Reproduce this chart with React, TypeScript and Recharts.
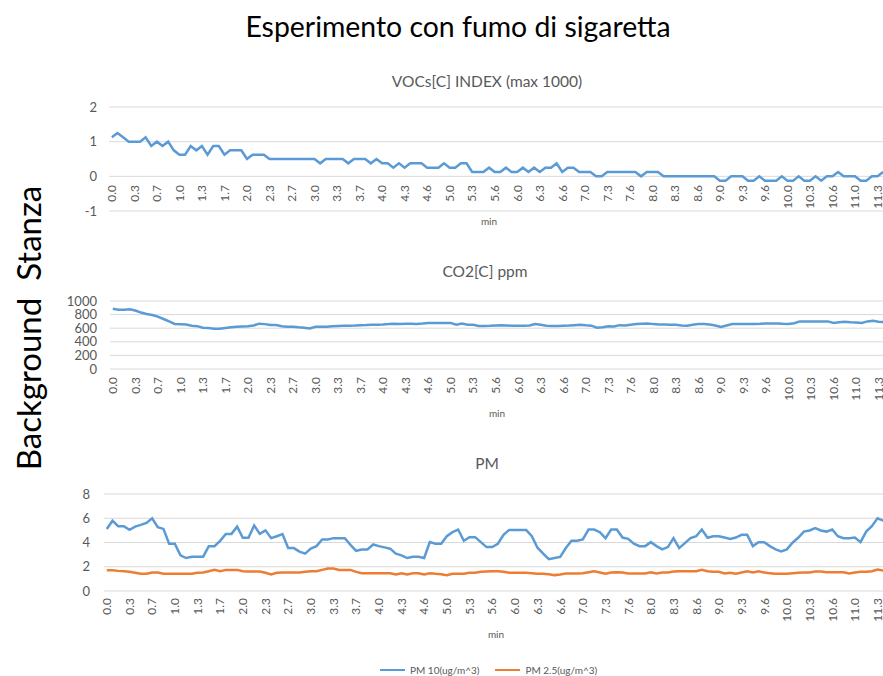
import { LineChart, Line, XAxis, YAxis, CartesianGrid, Legend } from 'recharts';

// time (min), one sample about every 5 s
const times = [
  '0.0', '0.1', '0.2', '0.2', '0.3', '0.4', '0.5', '0.6', '0.7', '0.7',
  '0.8', '0.9', '1.0', '1.1', '1.2', '1.2', '1.3', '1.4', '1.5', '1.6',
  '1.7', '1.7', '1.8', '1.9', '2.0', '2.1', '2.2', '2.2', '2.3', '2.4',
  '2.5', '2.6', '2.7', '2.7', '2.8', '2.9', '3.0', '3.1', '3.2', '3.2',
  '3.3', '3.4', '3.5', '3.6', '3.7', '3.7', '3.8', '3.9', '4.0', '4.1',
  '4.2', '4.2', '4.3', '4.4', '4.5', '4.6', '4.6', '4.7', '4.8', '4.9',
  '5.0', '5.1', '5.1', '5.2', '5.3', '5.4', '5.5', '5.6', '5.6', '5.7',
  '5.8', '5.9', '6.0', '6.1', '6.1', '6.2', '6.3', '6.4', '6.5', '6.6',
  '6.6', '6.7', '6.8', '6.9', '7.0', '7.1', '7.1', '7.2', '7.3', '7.4',
  '7.5', '7.6', '7.6', '7.7', '7.8', '7.9', '8.0', '8.1', '8.1', '8.2',
  '8.3', '8.4', '8.5', '8.5', '8.6', '8.7', '8.8', '8.9', '9.0', '9.0',
  '9.1', '9.2', '9.3', '9.4', '9.5', '9.5', '9.6', '9.7', '9.8', '9.9',
  '10.0', '10.0', '10.1', '10.2', '10.3', '10.4', '10.5', '10.5', '10.6', '10.7',
  '10.8', '10.9', '11.0', '11.0', '11.1', '11.2', '11.3', '11.4',
];

const voc = [
  1.125, 1.25, 1.125, 1, 1, 1, 1.125, 0.875, 1, 0.875,
  1, 0.75, 0.625, 0.625, 0.875, 0.75, 0.875, 0.625, 0.875, 0.875,
  0.625, 0.75, 0.75, 0.75, 0.5, 0.625, 0.625, 0.625, 0.5, 0.5,
  0.5, 0.5, 0.5, 0.5, 0.5, 0.5, 0.5, 0.375, 0.5, 0.5,
  0.5, 0.5, 0.375, 0.5, 0.5, 0.5, 0.375, 0.5, 0.375, 0.375,
  0.25, 0.375, 0.25, 0.375, 0.375, 0.375, 0.25, 0.25, 0.25, 0.375,
  0.25, 0.25, 0.375, 0.375, 0.125, 0.125, 0.125, 0.25, 0.125, 0.125,
  0.25, 0.125, 0.125, 0.25, 0.125, 0.25, 0.125, 0.25, 0.25, 0.375,
  0.125, 0.25, 0.25, 0.125, 0.125, 0.125, 0, 0, 0.125, 0.125,
  0.125, 0.125, 0.125, 0.125, 0, 0.125, 0.125, 0.125, 0, 0,
  0, 0, 0, 0, 0, 0, 0, 0, -0.125, -0.125,
  0, 0, 0, -0.125, -0.125, 0, -0.125, -0.125, -0.125, 0,
  -0.125, -0.125, 0, -0.125, -0.125, 0, -0.125, 0, 0, 0.125,
  0, 0, 0, -0.125, -0.125, 0, 0, 0.125,
];

const co2 = [
  887, 873, 873, 880, 860, 830, 810, 795, 770, 735,
  700, 662, 659, 655, 637, 630, 608, 603, 593, 593,
  603, 613, 620, 625, 630, 640, 667, 660, 647, 647,
  630, 623, 623, 613, 608, 596, 620, 623, 623, 627,
  632, 635, 637, 640, 645, 647, 652, 652, 655, 660,
  667, 662, 667, 667, 663, 668, 676, 676, 676, 676,
  678, 650, 667, 650, 650, 632, 632, 635, 640, 645,
  640, 635, 635, 637, 640, 660, 650, 635, 632, 632,
  637, 640, 645, 650, 642, 637, 608, 613, 627, 625,
  645, 640, 652, 662, 667, 670, 660, 655, 655, 650,
  650, 640, 637, 650, 662, 662, 655, 640, 618, 640,
  662, 662, 662, 662, 662, 665, 670, 670, 670, 665,
  662, 672, 700, 700, 700, 700, 700, 700, 678, 688,
  693, 686, 683, 678, 700, 710, 695, 690,
];

const pm10 = [
  5.12, 5.8, 5.34, 5.34, 5.04, 5.31, 5.45, 5.61, 6.0, 5.26,
  5.12, 3.9, 3.9, 2.94, 2.72, 2.83, 2.83, 2.83, 3.7, 3.7,
  4.14, 4.71, 4.71, 5.31, 4.39, 4.39, 5.4, 4.71, 5.0, 4.36,
  4.52, 4.69, 3.54, 3.54, 3.25, 3.08, 3.49, 3.7, 4.25, 4.25,
  4.36, 4.36, 4.36, 3.81, 3.32, 3.43, 3.43, 3.84, 3.7, 3.6,
  3.49, 3.08, 2.94, 2.72, 2.83, 2.83, 2.72, 4.03, 3.9, 3.9,
  4.52, 4.85, 5.07, 4.14, 4.44, 4.44, 4.03, 3.62, 3.62, 3.9,
  4.63, 5.04, 5.04, 5.04, 5.04, 4.52, 3.57, 3.08, 2.62, 2.72,
  2.81, 3.54, 4.14, 4.14, 4.25, 5.07, 5.07, 4.85, 4.36, 5.07,
  5.07, 4.41, 4.3, 3.9, 3.7, 3.7, 4.03, 3.7, 3.43, 3.62,
  4.36, 3.54, 3.95, 4.36, 4.52, 5.07, 4.39, 4.52, 4.52, 4.41,
  4.3, 4.41, 4.63, 4.63, 3.7, 4.03, 4.03, 3.7, 3.43, 3.27,
  3.43, 3.98, 4.39, 4.9, 4.99, 5.18, 4.99, 4.9, 5.07, 4.52,
  4.36, 4.36, 4.41, 4.03, 4.9, 5.34, 6.0, 5.8,
];

const pm25 = [
  1.72, 1.72, 1.66, 1.63, 1.58, 1.5, 1.42, 1.42, 1.53, 1.53,
  1.42, 1.42, 1.42, 1.42, 1.42, 1.42, 1.5, 1.53, 1.63, 1.74,
  1.63, 1.74, 1.74, 1.74, 1.63, 1.61, 1.61, 1.61, 1.5, 1.36,
  1.5, 1.53, 1.53, 1.53, 1.53, 1.58, 1.63, 1.63, 1.74, 1.85,
  1.85, 1.74, 1.74, 1.74, 1.58, 1.47, 1.47, 1.47, 1.47, 1.47,
  1.47, 1.36, 1.47, 1.36, 1.47, 1.47, 1.36, 1.47, 1.42, 1.39,
  1.31, 1.42, 1.42, 1.42, 1.5, 1.5, 1.58, 1.61, 1.62, 1.63,
  1.58, 1.5, 1.5, 1.5, 1.5, 1.47, 1.42, 1.42, 1.39, 1.31,
  1.36, 1.44, 1.44, 1.44, 1.47, 1.55, 1.63, 1.53, 1.42, 1.53,
  1.55, 1.53, 1.44, 1.44, 1.44, 1.44, 1.55, 1.44, 1.53, 1.53,
  1.61, 1.63, 1.63, 1.63, 1.63, 1.74, 1.63, 1.58, 1.58, 1.44,
  1.5, 1.42, 1.53, 1.63, 1.53, 1.63, 1.53, 1.47, 1.42, 1.42,
  1.42, 1.47, 1.5, 1.53, 1.53, 1.61, 1.61, 1.55, 1.55, 1.55,
  1.55, 1.44, 1.53, 1.58, 1.58, 1.63, 1.77, 1.69,
];

const vocTicks = [-1, 0, 1, 2];
const co2Ticks = [0, 200, 400, 600, 800, 1000];
const pmTicks = [0, 2, 4, 6, 8];

const data = times.map((t, i) => ({
  t,
  voc: voc[i],
  co2: co2[i],
  pm10: pm10[i],
  pm25: pm25[i],
}));

const BLUE = '#5B9BD5';
const ORANGE = '#ED7D31';
const GREY = '#595959';
const GRID = '#D9D9D9';

function RotTick(props: any) {
  const { x, y, payload, lift = 0 } = props;
  return (
    <g transform={`translate(${x},${y - lift})`}>
      <text transform="rotate(-90)" textAnchor="end" dy="0.36em" fontSize={12} fill={GREY}>
        {payload.value}
      </text>
    </g>
  );
}

function PmLegend({ payload }: any) {
  return (
    <div style={{ display: 'flex', alignItems: 'center', gap: 16, fontSize: 10, color: GREY }}>
      {(payload || []).map((e: any) => (
        <span key={e.value} style={{ display: 'flex', alignItems: 'center' }}>
          <span style={{ width: 25, height: 2.5, background: e.color, marginRight: 5 }} />
          {e.value}
        </span>
      ))}
    </div>
  );
}

const yTick = { fontSize: 13, fill: GREY };

export default function App() {
  return (
    <div
      style={{
        position: 'fixed',
        left: 0,
        top: 0,
        width: 883,
        height: 676,
        overflow: 'hidden',
        background: '#fff',
        fontFamily: 'Lato, sans-serif',
      }}
    >
      <div style={{ position: 'absolute', left: 0, top: 95 }}>
        <LineChart width={886} height={126} data={data} margin={{ top: 12, right: 0, bottom: 0, left: 0 }}>
          <CartesianGrid vertical={false} stroke={GRID} />
          <XAxis
            dataKey="t"
            interval={3}
            height={10}
            tickSize={0}
            tickMargin={0}
            axisLine={false}
            tickLine={false}
            padding={{ left: 2.85, right: 2.85 }}
            tick={(p: any) => <RotTick {...p} lift={26} />}
          />
          <YAxis
            width={109}
            domain={[-1, 2]}
            ticks={vocTicks}
            interval={0}
            axisLine={false}
            tickLine={false}
            tickSize={0}
            tickMargin={12}
            tick={yTick}
          />
          <Line type="linear" dataKey="voc" stroke={BLUE} strokeWidth={2.5} dot={false} isAnimationActive={false} />
        </LineChart>
      </div>

      <div style={{ position: 'absolute', left: 0, top: 290 }}>
        <LineChart width={887} height={119} data={data} margin={{ top: 11, right: 0, bottom: 0, left: 0 }}>
          <CartesianGrid vertical={false} stroke={GRID} />
          <XAxis
            dataKey="t"
            interval={3}
            height={40}
            tickSize={0}
            tickMargin={8}
            axisLine={false}
            tickLine={false}
            padding={{ left: 2.8, right: 2.8 }}
            tick={(p: any) => <RotTick {...p} />}
          />
          <YAxis
            width={110}
            domain={[0, 1000]}
            ticks={co2Ticks}
            interval={0}
            axisLine={false}
            tickLine={false}
            tickSize={0}
            tickMargin={13}
            tick={yTick}
          />
          <Line type="linear" dataKey="co2" stroke={BLUE} strokeWidth={2.5} dot={false} isAnimationActive={false} />
        </LineChart>
      </div>

      <div style={{ position: 'absolute', left: 0, top: 484 }}>
        <LineChart width={886} height={147} data={data} margin={{ top: 10, right: 0, bottom: 0, left: 0 }}>
          <CartesianGrid vertical={false} stroke={GRID} />
          <XAxis
            dataKey="t"
            interval={3}
            height={40}
            tickSize={0}
            tickMargin={7}
            axisLine={false}
            tickLine={false}
            padding={{ left: 2.8, right: 2.8 }}
            tick={(p: any) => <RotTick {...p} />}
          />
          <YAxis
            width={104}
            domain={[0, 8]}
            ticks={pmTicks}
            interval={0}
            axisLine={false}
            tickLine={false}
            tickSize={0}
            tickMargin={14}
            tick={yTick}
          />
          <Legend
            layout="horizontal"
            verticalAlign="middle"
            content={<PmLegend />}
            wrapperStyle={{ top: 180, left: 380, width: 'auto' }}
          />
          <Line type="linear" dataKey="pm10" name="PM 10(ug/m^3)" stroke={BLUE} strokeWidth={2.5} dot={false} isAnimationActive={false} />
          <Line type="linear" dataKey="pm25" name="PM 2.5(ug/m^3)" stroke={ORANGE} strokeWidth={2.5} dot={false} isAnimationActive={false} />
        </LineChart>
      </div>

      <svg
        width={883}
        height={676}
        style={{ position: 'absolute', left: 0, top: 0, pointerEvents: 'none' }}
      >
        <text x={458} y={37} textAnchor="middle" fontSize={28.4} fill="#000">
          Esperimento con fumo di sigaretta
        </text>
        <text
          transform="translate(41,328) rotate(-90)"
          textAnchor="middle"
          fontSize={33}
          fill="#000"
          style={{ whiteSpace: 'pre' }}
        >
          {'Background  Stanza'}
        </text>
        <text x={487} y={87} textAnchor="middle" fontSize={15.5} fill={GREY}>
          VOCs[C] INDEX (max 1000)
        </text>
        <text x={485} y={277} textAnchor="middle" fontSize={15.5} fill={GREY}>
          CO2[C] ppm
        </text>
        <text x={487} y={469} textAnchor="middle" fontSize={15.5} fill={GREY}>
          PM
        </text>
        <text x={489} y={225} textAnchor="middle" fontSize={10} fill={GREY}>
          min
        </text>
        <text x={497} y={417} textAnchor="middle" fontSize={10} fill={GREY}>
          min
        </text>
        <text x={496} y={638} textAnchor="middle" fontSize={10} fill={GREY}>
          min
        </text>
      </svg>
    </div>
  );
}
